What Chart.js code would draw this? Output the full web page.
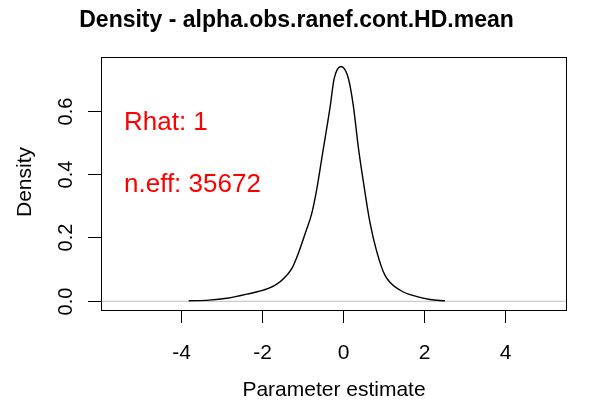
<!DOCTYPE html>
<html>
<head>
<meta charset="utf-8">
<script src="https://cdn.jsdelivr.net/npm/chart.js@4/dist/chart.umd.min.js"></script>
<style>
  html, body { margin: 0; padding: 0; background: #fff; }
  #wrap { width: 590px; height: 405px; }
</style>
</head>
<body>
<div id="wrap"><canvas id="densityChart" width="590" height="405"></canvas></div>
<script>
// density estimate
const xValues = [-3.8, -3.3, -2.86, -2.37, -1.84, -1.55, -1.26, -1.1, -0.93, -0.77, -0.65, -0.49, -0.32, -0.22, -0.05, 0.13, 0.25, 0.38, 0.5, 0.66, 0.83, 1.03, 1.4, 1.82, 2.14, 2.51];
const densityValues = [0.0, 0.002, 0.008, 0.021, 0.039, 0.06, 0.102, 0.15, 0.213, 0.276, 0.35, 0.476, 0.61, 0.7, 0.739, 0.702, 0.618, 0.481, 0.376, 0.249, 0.155, 0.081, 0.034, 0.013, 0.004, 0.0];
const xTicks = [-4, -2, 0, 2, 4];
const yTicks = [0, 0.2, 0.4, 0.6];
const yTickLabels = ["0.0", "0.2", "0.4", "0.6"];
const titleText = "Density - alpha.obs.ranef.cont.HD.mean";
const xLabel = "Parameter estimate";
const yLabel = "Density";
const statLines = ["Rhat: 1", "n.eff: 35672"];

const FONT = "'Liberation Sans', Arial, sans-serif";

const rPlotDecor = {
  id: "rPlotDecor",
  beforeDatasetsDraw(chart) {
    const { ctx, chartArea, scales } = chart;
    const y0 = scales.y.getPixelForValue(0);
    ctx.save();
    ctx.strokeStyle = "#bebebe";
    ctx.lineWidth = 1;
    ctx.beginPath();
    ctx.moveTo(chartArea.left, y0 + 0.5);
    ctx.lineTo(chartArea.right, y0 + 0.5);
    ctx.stroke();
    ctx.restore();
  },
  afterDraw(chart) {
    const { ctx, chartArea, scales } = chart;
    const { left, right, top, bottom } = chartArea;
    ctx.save();
    // box
    ctx.strokeStyle = "#000";
    ctx.lineWidth = 1;
    ctx.strokeRect(left + 0.5, top + 0.5, right - left, bottom - top);

    // x ticks
    ctx.fillStyle = "#000";
    ctx.font = "21px " + FONT;
    ctx.textAlign = "center";
    ctx.textBaseline = "alphabetic";
    xTicks.forEach((v) => {
      const px = Math.round(scales.x.getPixelForValue(v)) + 0.5;
      ctx.beginPath();
      ctx.moveTo(px, bottom);
      ctx.lineTo(px, bottom + 13);
      ctx.stroke();
      ctx.fillText(String(v), px, 359);
    });

    // y ticks, rotated labels
    ctx.font = "20px " + FONT;
    yTicks.forEach((v, i) => {
      const py = Math.round(scales.y.getPixelForValue(v)) + 0.5;
      ctx.beginPath();
      ctx.moveTo(left - 13, py);
      ctx.lineTo(left, py);
      ctx.stroke();
      ctx.save();
      ctx.translate(72, py);
      ctx.rotate(-Math.PI / 2);
      ctx.fillText(yTickLabels[i], 0, 0);
      ctx.restore();
    });

    // axis titles
    ctx.font = "21px " + FONT;
    ctx.fillText(xLabel, 334, 396);
    ctx.save();
    ctx.translate(31, 182);
    ctx.rotate(-Math.PI / 2);
    ctx.fillText(yLabel, 0, 0);
    ctx.restore();

    // main title
    ctx.font = "bold 23px " + FONT;
    ctx.fillText(titleText, 296.5, 27);

    // stats text
    ctx.fillStyle = "#ff0000";
    ctx.font = "26px " + FONT;
    ctx.textAlign = "left";
    ctx.fillText(statLines[0], 124, 130);
    ctx.fillText(statLines[1], 124, 192);
    ctx.restore();
  }
};

new Chart(document.getElementById("densityChart"), {
  type: "line",
  data: {
    datasets: [
      {
        data: xValues.map((x, i) => ({ x: x, y: densityValues[i] })),
        borderColor: "#000",
        borderWidth: 1.4,
        pointRadius: 0,
        fill: false,
        cubicInterpolationMode: "monotone",
      },
    ],
  },
  options: {
    responsive: false,
    animation: false,
    layout: { padding: { left: 101, right: 24, top: 57, bottom: 95 } },
    plugins: { legend: { display: false }, tooltip: { enabled: false } },
    scales: {
      x: { type: "linear", min: -5.96, max: 5.49, display: false },
      y: { type: "linear", min: -0.029, max: 0.769, display: false },
    },
  },
  plugins: [rPlotDecor],
});
</script>
</body>
</html>
